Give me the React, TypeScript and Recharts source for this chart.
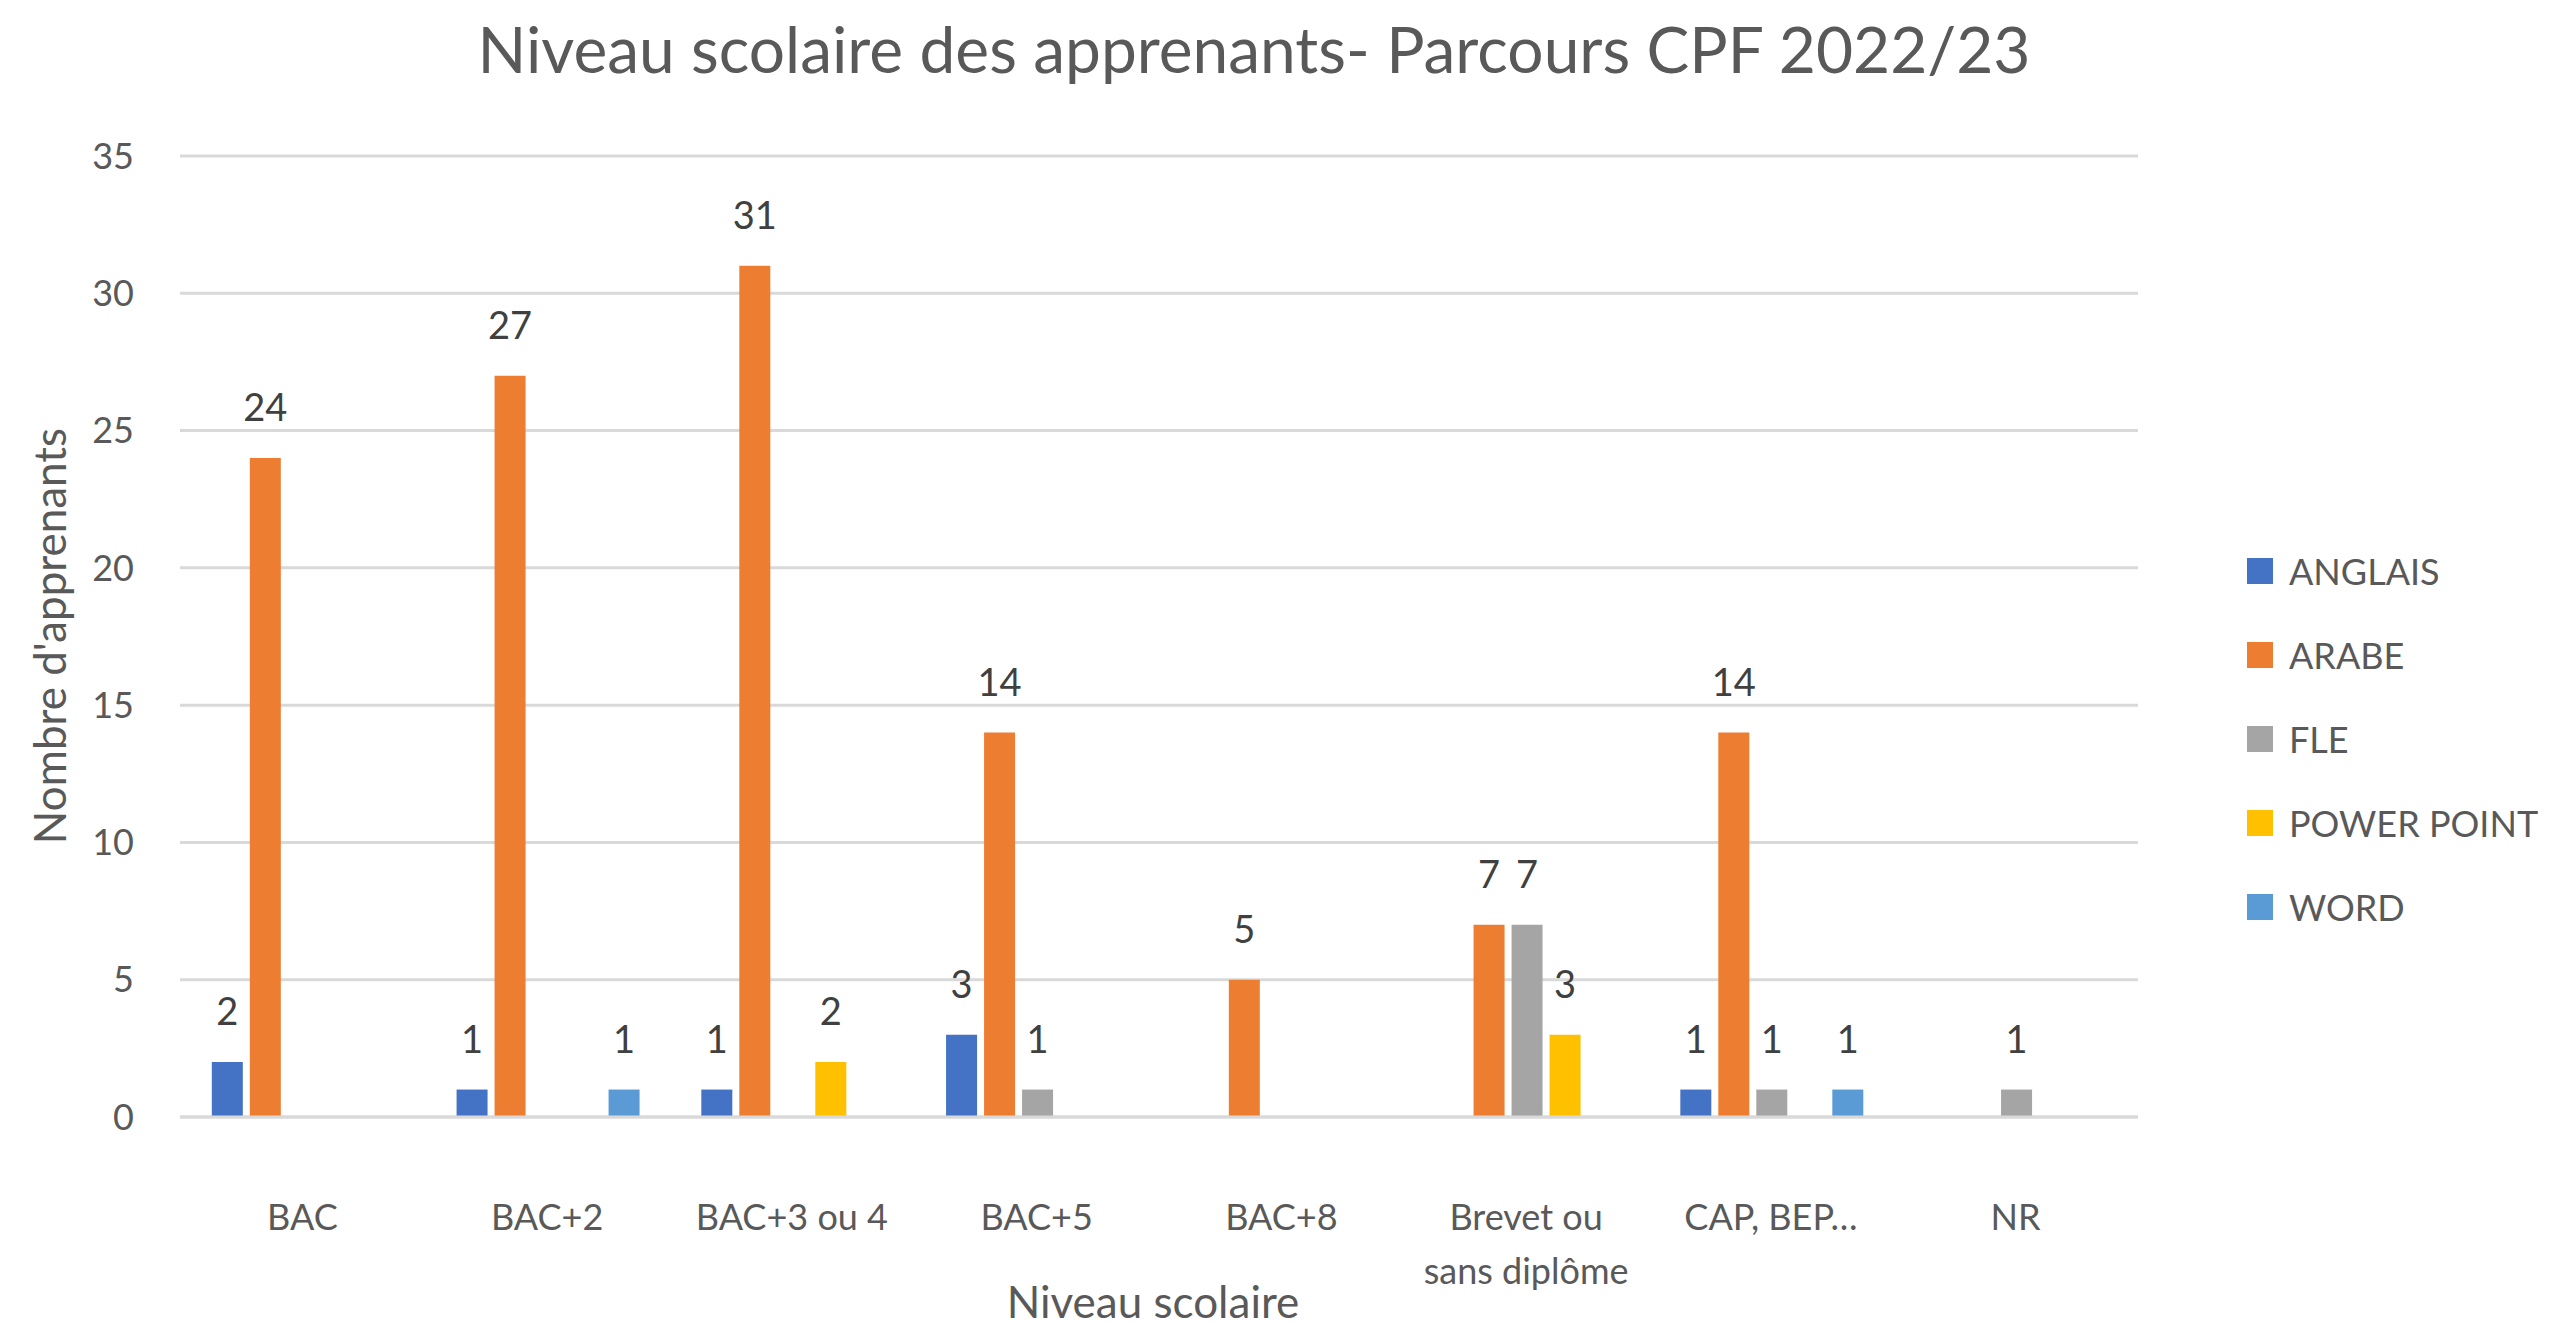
import React from "react";
import {
  BarChart,
  Bar,
  XAxis,
  YAxis,
  CartesianGrid,
  Legend,
  LabelList,
} from "recharts";

const categories = [
  "BAC",
  "BAC+2",
  "BAC+3 ou 4",
  "BAC+5",
  "BAC+8",
  "Brevet ou sans diplôme",
  "CAP, BEP…",
  "NR",
];

// null = no learners in that course for this level (no bar, no label)
const anglais = [2, 1, 1, 3, null, null, 1, null];
const arabe = [24, 27, 31, 14, 5, 7, 14, null];
const fle = [null, null, null, 1, null, 7, 1, 1];
const powerPoint = [null, null, 2, null, null, 3, null, null];
const word = [null, 1, null, null, null, null, 1, null];

const yTicks = [0, 5, 10, 15, 20, 25, 30, 35];

const series = [
  { key: "anglais", name: "ANGLAIS", color: "#4472C4" },
  { key: "arabe", name: "ARABE", color: "#ED7D31" },
  { key: "fle", name: "FLE", color: "#A5A5A5" },
  { key: "powerPoint", name: "POWER POINT", color: "#FFC000" },
  { key: "word", name: "WORD", color: "#5B9BD5" },
];

const data = categories.map((level, i) => ({
  level,
  anglais: anglais[i],
  arabe: arabe[i],
  fle: fle[i],
  powerPoint: powerPoint[i],
  word: word[i],
}));

const FONT = "Lato, 'Open Sans', sans-serif";
const TEXT = "#595959";

// split long labels onto several lines, like Excel does
function wrapLabel(label: string, maxChars = 12): string[] {
  if (label.length <= maxChars) return [label];
  const words = label.split(" ");
  const lines: string[] = [];
  let cur = "";
  for (const w of words) {
    const next = cur ? cur + " " + w : w;
    if (next.length > maxChars && cur) {
      lines.push(cur);
      cur = w;
    } else {
      cur = next;
    }
  }
  if (cur) lines.push(cur);
  return lines;
}

const CategoryTick = (props: any) => {
  const { x, y, payload } = props;
  const lines = wrapLabel(String(payload.value));
  return (
    <text
      x={x}
      y={y}
      textAnchor="middle"
      fill={TEXT}
      fontSize={36}
      fontFamily={FONT}
    >
      {lines.map((l, i) => (
        <tspan key={i} x={x} dy={i === 0 ? 26 : 54}>
          {l}
        </tspan>
      ))}
    </text>
  );
};

const ValueLabel = (props: any) => {
  const { x, y, width, value } = props;
  if (value === null || value === undefined) return null;
  return (
    <text
      x={Number(x) + Number(width) / 2}
      y={Number(y) - 37}
      textAnchor="middle"
      fill="#404040"
      fontSize={38}
      fontFamily={FONT}
    >
      {value}
    </text>
  );
};

const LegendContent = (props: any) => {
  const { payload } = props;
  return (
    <div>
      {(payload || []).map((entry: any) => (
        <div
          key={entry.value}
          style={{ display: "flex", alignItems: "center", height: 84 }}
        >
          <span
            style={{
              display: "inline-block",
              width: 26,
              height: 26,
              background: entry.color,
              marginRight: 16,
            }}
          />
          <span style={{ fontSize: 36, color: TEXT, fontFamily: FONT }}>
            {entry.value}
          </span>
        </div>
      ))}
    </div>
  );
};

export default function App() {
  return (
    <div
      style={{
        position: "relative",
        width: 2559,
        height: 1323,
        background: "#fff",
        fontFamily: FONT,
      }}
    >
      <style>{`body{margin:0}`}</style>
      <div
        style={{
          position: "absolute",
          top: 12,
          left: 0,
          width: 2508,
          textAlign: "center",
          fontSize: 64,
          color: TEXT,
          lineHeight: "74px",
        }}
      >
        Niveau scolaire des apprenants- Parcours CPF 2022/23
      </div>
      <div
        style={{
          position: "absolute",
          left: 49,
          top: 636,
          transform: "translate(-50%, -50%) rotate(-90deg)",
          fontSize: 44,
          color: TEXT,
          whiteSpace: "nowrap",
        }}
      >
        Nombre d'apprenants
      </div>
      <div
        style={{
          position: "absolute",
          left: 1153,
          top: 1301,
          transform: "translate(-50%, -50%)",
          fontSize: 44,
          color: TEXT,
          whiteSpace: "nowrap",
        }}
      >
        Niveau scolaire
      </div>
      <BarChart
        width={2559}
        height={1323}
        data={data}
        margin={{ top: 156, right: 121, bottom: 56, left: 60 }}
        barCategoryGap="13%"
        barGap={7}
        style={{ position: "absolute", top: 0, left: 0 }}
      >
        <CartesianGrid
          vertical={false}
          stroke="#D9D9D9"
          strokeWidth={3}
        />
        <XAxis
          dataKey="level"
          height={150}
          axisLine={{ stroke: "#D9D9D9", strokeWidth: 3 }}
          tickLine={false}
          tickSize={0}
          tickMargin={87}
          tick={<CategoryTick />}
          interval={0}
        />
        <YAxis
          width={120}
          domain={[0, 35]}
          ticks={yTicks}
          axisLine={false}
          tickLine={false}
          tickSize={0}
          tickMargin={46}
          tick={{ fill: TEXT, fontSize: 36, fontFamily: FONT }}
        />
        <Legend
          layout="vertical"
          align="right"
          verticalAlign="middle"
          content={<LegendContent />}
          wrapperStyle={{ width: 300, left: 2247, top: 529 }}
        />
        {series.map((s) => (
          <Bar
            key={s.key}
            dataKey={s.key}
            name={s.name}
            fill={s.color}
            isAnimationActive={false}
          >
            <LabelList dataKey={s.key} content={<ValueLabel />} />
          </Bar>
        ))}
      </BarChart>
    </div>
  );
}
